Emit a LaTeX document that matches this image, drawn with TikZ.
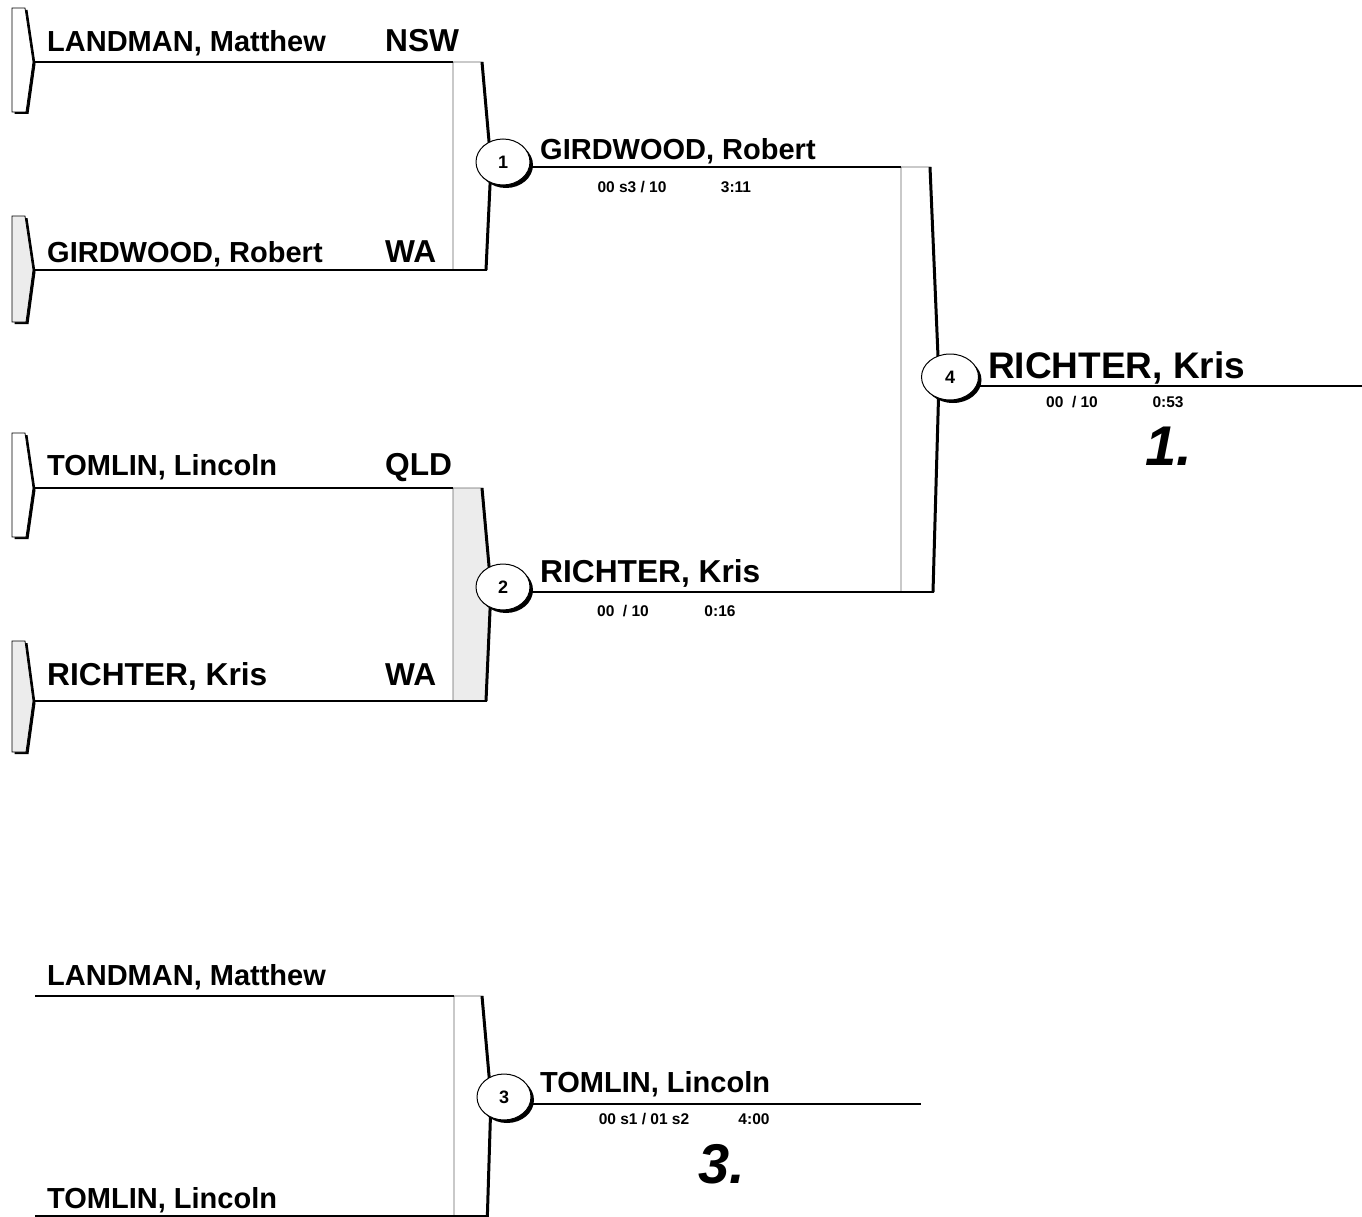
\documentclass[tikz,border=0pt]{standalone}
\usepackage{fontspec}
\setmainfont{Liberation Sans}
\usetikzlibrary{shapes.geometric,shadows}
\begin{document}
\begin{tikzpicture}[x=1pt,y=-1pt,
  conn/.style={line width=2.8pt, line cap=butt},
  edgeline/.style={line width=3pt, line join=round},
  boxborder/.style={draw=black!60, line width=0.8pt},
  tabborder/.style={draw=black, line width=0.8pt},
  matchc/.style={ellipse, draw=black, line width=1pt, fill=white, minimum width=54pt, minimum height=46pt, inner sep=0pt,
     font=\fontsize{18}{18}\selectfont\bfseries,
     drop shadow={shadow xshift=3pt, shadow yshift=-3pt, opacity=1, fill=black}},
  pname/.style={font=\fontsize{29}{29}\selectfont\bfseries, anchor=base west, inner sep=0pt},
  wname/.style={font=\fontsize{31.7}{31.7}\selectfont\bfseries, anchor=base west, inner sep=0pt},
  bname/.style={font=\fontsize{37}{37}\selectfont\bfseries, anchor=base west, inner sep=0pt},
  score/.style={font=\fontsize{15.5}{15.5}\selectfont\bfseries, anchor=center, inner sep=0pt},
  rank/.style={font=\fontsize{56}{56}\selectfont\bfseries\itshape, anchor=base, inner sep=0pt}
]
\useasboundingbox (0,0) rectangle (1362,1217);
\clip (0,0) rectangle (1362,1217);

% ---------- entry tabs ----------
\newcommand\EntryTab[4]{%
  \fill[black] (14.5,#1+2) -- (27.5,#1+2) -- (35.5,#2+2) -- (28.5,#3+2) -- (14.5,#3+2) -- cycle;
  \filldraw[tabborder, fill=#4] (12,#1) -- (25,#1) -- (33,#2) -- (26,#3) -- (12,#3) -- cycle;
}
\EntryTab{8}{62}{112}{white}
\EntryTab{216}{270}{322}{gray!15}
\EntryTab{433}{488}{537}{white}
\EntryTab{641}{701}{752}{gray!15}

\coordinate (t1) at (33,62);
\coordinate (t2) at (33,270);
\coordinate (t3) at (33,488);
\coordinate (t4) at (33,701);
\coordinate (t5) at (35,996);
\coordinate (t6) at (35,1216);

% ---------- match boxes ----------
\filldraw[boxborder, fill=white] (453,62) -- (482,62) -- (491,164) -- (486,270) -- (453,270) -- cycle;
\filldraw[boxborder, fill=gray!15] (453,488) -- (482,488) -- (491,588) -- (486,701) -- (453,701) -- cycle;
\filldraw[boxborder, fill=white] (901,167) -- (930,167) -- (939,380) -- (933,592) -- (901,592) -- cycle;
\filldraw[boxborder, fill=white] (454,996) -- (482,996) -- (491,1098) -- (486,1260) -- (454,1260) -- cycle;

\coordinate (b1t) at (453,62);  \coordinate (b1b) at (487,270);
\coordinate (b2t) at (453,488); \coordinate (b2b) at (487,701);
\coordinate (b4t) at (901,167); \coordinate (b4b) at (934,592);
\coordinate (b3t) at (454,996); \coordinate (b3b) at (487,1216);
\coordinate (e4) at (1362,386);
\coordinate (e3) at (921,1104);

\draw[edgeline] (482,62) -- (491,164) -- (486,270);
\draw[edgeline] (482,488) -- (491,588) -- (486,701);
\draw[edgeline] (930,167) -- (939,380) -- (933,592);
\draw[edgeline] (482,996) -- (491,1098) -- (486,1260);

% ---------- circles ----------
\node[matchc] (c1) at (503,162) {1};
\node[matchc] (c2) at (503,587) {2};
\node[matchc, minimum width=57pt] (c4) at (950,377) {4};
\node[matchc] (c3) at (504,1097) {3};

% ---------- connectors ----------
\draw[conn] (t1) -- (b1t);
\draw[conn] (t2) -- (b1b);
\draw[conn] (t3) -- (b2t);
\draw[conn] (t4) -- (b2b);
\draw[conn] (c1.east |- b4t) -- (b4t);
\draw[conn] (c2.east |- b4b) -- (b4b);
\draw[conn] (c4.east |- e4) -- (e4);
\draw[conn] (t5) -- (b3t);
\draw[conn] (t6) -- (b3b);
\draw[conn] (c3.east |- e3) -- (e3);

% ---------- names ----------
\node[pname] (n1) at (47,52) {LANDMAN, Matthew};
\node[wname] (s1) at (385,52) {NSW};
\node[pname] (n2) at (47,262) {GIRDWOOD, Robert};
\node[wname] (s2) at (385,262) {WA};
\node[pname] (n3) at (47,475) {TOMLIN, Lincoln};
\node[wname] (s3) at (385,475) {QLD};
\node[wname] (n4) at (47,685) {RICHTER, Kris};
\node[wname] (s4) at (385,685) {WA};

\node[pname] (w1) at (540,160) {GIRDWOOD, Robert};
\node[score] (w1a) at (632,187) {00 s3 / 10};
\node[score] (w1b) at (736,187) {3:11};

\node[wname] (w2) at (540,582) {RICHTER, Kris};
\node[score] (w2a) at (623,611) {00\ \ / 10};
\node[score] (w2b) at (720,611) {0:16};

\node[bname] (w4) at (988,378) {RICHTER, Kris};
\node[score] (w4a) at (1072,402) {00\ \ / 10};
\node[score] (w4b) at (1168,402) {0:53};
\node[rank] (r1) at (1169,465) {1.};

\node[pname] (n5) at (47,985) {LANDMAN, Matthew};
\node[pname] (w3) at (540,1092) {TOMLIN, Lincoln};
\node[score] (w3a) at (644,1119) {00 s1 / 01 s2};
\node[score] (w3b) at (754,1119) {4:00};
\node[rank] (r3) at (722,1183) {3.};
\node[pname] (n6) at (47,1208) {TOMLIN, Lincoln};
\end{tikzpicture}
\end{document}
